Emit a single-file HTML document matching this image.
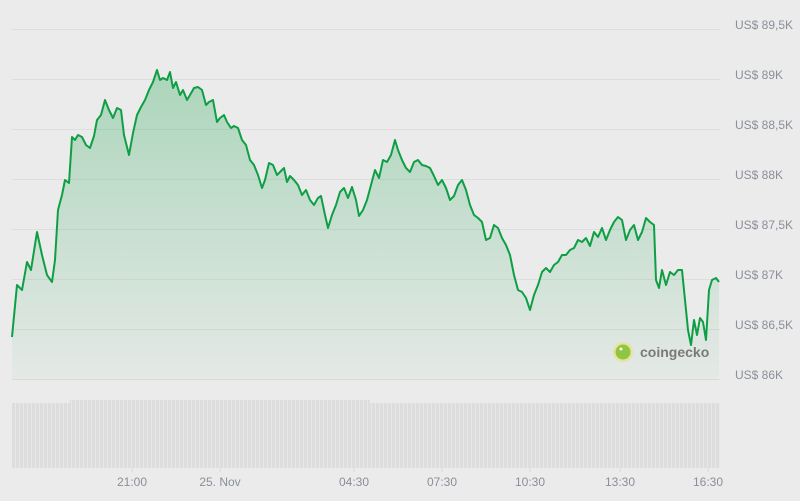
<!DOCTYPE html>
<html><head><meta charset="utf-8"><style>
body{margin:0;background:#ebebeb;width:800px;height:496px;overflow:hidden;font-family:"Liberation Sans",sans-serif}
</style></head><body>
<svg width="800" height="496" xmlns="http://www.w3.org/2000/svg">
<defs>
<linearGradient id="g" x1="0" y1="0" x2="0" y2="1">
<stop offset="0" stop-color="#16a34a" stop-opacity="0.3"/>
<stop offset="1" stop-color="#16a34a" stop-opacity="0.03"/>
</linearGradient>
<pattern id="vb" width="4" height="10" patternUnits="userSpaceOnUse">
<rect width="3" height="10" fill="#dddddd"/><rect x="3" width="1" height="10" fill="#e8e8e8"/>
</pattern>
</defs>
<rect width="800" height="496" fill="#ebebeb"/>
<g stroke="#dedede" stroke-width="1">
<line x1="12" x2="720" y1="29.5" y2="29.5"/><line x1="12" x2="720" y1="79.5" y2="79.5"/>
<line x1="12" x2="720" y1="129.5" y2="129.5"/><line x1="12" x2="720" y1="179.5" y2="179.5"/>
<line x1="12" x2="720" y1="229.5" y2="229.5"/><line x1="12" x2="720" y1="279.5" y2="279.5"/>
<line x1="12" x2="720" y1="329.5" y2="329.5"/><line x1="12" x2="720" y1="379.5" y2="379.5"/>
</g>
<g fill="#8a8f99" font-size="12">
<text x="735" y="29">US$ 89,5K</text><text x="735" y="79">US$ 89K</text>
<text x="735" y="129">US$ 88,5K</text><text x="735" y="179">US$ 88K</text>
<text x="735" y="229">US$ 87,5K</text><text x="735" y="279">US$ 87K</text>
<text x="735" y="329">US$ 86,5K</text><text x="735" y="379">US$ 86K</text>
</g>
<rect x="12" y="403" width="708" height="65" fill="url(#vb)"/>
<rect x="70" y="400" width="300" height="3" fill="url(#vb)"/>
<g stroke="#d8d8d8"><line x1="132" x2="132" y1="468" y2="472"/><line x1="220" x2="220" y1="468" y2="472"/><line x1="354" x2="354" y1="468" y2="472"/><line x1="442" x2="442" y1="468" y2="472"/><line x1="530" x2="530" y1="468" y2="472"/><line x1="620" x2="620" y1="468" y2="472"/><line x1="708" x2="708" y1="468" y2="472"/></g>
<g fill="#8a8f99" font-size="12" text-anchor="middle">
<text x="132" y="486">21:00</text><text x="220" y="486">25. Nov</text>
<text x="354" y="486">04:30</text><text x="442" y="486">07:30</text>
<text x="530" y="486">10:30</text><text x="620" y="486">13:30</text>
<text x="708" y="486">16:30</text>
</g>
<path d="M12,337 L17,285 22,290 27,262 31,270 37,232 42,255 47,275 52,282 55,260 58,210 62,195 65,180 69,183 72,137 75,140 78,135 82,137 86,145 90,148 94,136 97,120 101,115 105,100 109,110 113,118 117,108 121,110 124,135 129,155 133,133 137,115 141,107 145,100 149,90 153,82 157,70 160,80 163,78 167,80 170,72 173,88 176,82 180,95 183,90 187,100 190,95 194,88 198,87 202,90 206,105 209,102 213,100 217,122 220,118 224,115 227,122 231,128 234,126 238,128 242,140 246,145 250,160 254,165 258,175 262,188 265,180 269,163 273,165 277,175 280,172 284,168 287,182 290,176 294,180 298,185 302,195 306,190 310,200 314,205 318,198 321,196 325,215 328,228 332,215 336,205 340,192 344,188 348,198 352,187 356,200 359,216 363,210 367,200 371,185 375,170 379,178 383,160 387,162 391,155 395,140 398,150 402,160 406,168 410,172 414,162 418,160 422,165 426,166 430,168 434,176 438,185 442,180 446,188 450,200 454,196 458,185 462,180 466,190 470,205 474,215 478,218 482,222 486,240 490,238 494,225 498,228 502,238 506,245 510,255 514,275 518,290 522,292 526,298 530,310 534,295 538,285 542,272 546,268 550,272 554,265 558,262 562,255 566,255 570,250 574,248 578,240 582,242 586,238 590,246 594,232 598,237 602,228 606,240 610,230 614,222 618,217 622,220 626,240 630,230 634,225 638,240 642,232 646,218 650,222 654,225 656,280 659,288 662,270 666,285 670,272 674,275 678,270 682,270 685,300 688,330 691,345 694,320 697,335 700,318 703,322 706,340 709,290 712,280 716,278 719,282 L719,380 L12,380 Z" fill="url(#g)"/>
<path d="M12,337 L17,285 22,290 27,262 31,270 37,232 42,255 47,275 52,282 55,260 58,210 62,195 65,180 69,183 72,137 75,140 78,135 82,137 86,145 90,148 94,136 97,120 101,115 105,100 109,110 113,118 117,108 121,110 124,135 129,155 133,133 137,115 141,107 145,100 149,90 153,82 157,70 160,80 163,78 167,80 170,72 173,88 176,82 180,95 183,90 187,100 190,95 194,88 198,87 202,90 206,105 209,102 213,100 217,122 220,118 224,115 227,122 231,128 234,126 238,128 242,140 246,145 250,160 254,165 258,175 262,188 265,180 269,163 273,165 277,175 280,172 284,168 287,182 290,176 294,180 298,185 302,195 306,190 310,200 314,205 318,198 321,196 325,215 328,228 332,215 336,205 340,192 344,188 348,198 352,187 356,200 359,216 363,210 367,200 371,185 375,170 379,178 383,160 387,162 391,155 395,140 398,150 402,160 406,168 410,172 414,162 418,160 422,165 426,166 430,168 434,176 438,185 442,180 446,188 450,200 454,196 458,185 462,180 466,190 470,205 474,215 478,218 482,222 486,240 490,238 494,225 498,228 502,238 506,245 510,255 514,275 518,290 522,292 526,298 530,310 534,295 538,285 542,272 546,268 550,272 554,265 558,262 562,255 566,255 570,250 574,248 578,240 582,242 586,238 590,246 594,232 598,237 602,228 606,240 610,230 614,222 618,217 622,220 626,240 630,230 634,225 638,240 642,232 646,218 650,222 654,225 656,280 659,288 662,270 666,285 670,272 674,275 678,270 682,270 685,300 688,330 691,345 694,320 697,335 700,318 703,322 706,340 709,290 712,280 716,278 719,282" fill="none" stroke="#0e9f45" stroke-width="2" stroke-linejoin="round"/>
<circle cx="623" cy="352" r="10" fill="#e8e2a0"/>
<circle cx="623" cy="352" r="7.5" fill="#8dc63f"/>
<circle cx="621" cy="349" r="1.5" fill="#fff"/>
<text x="640" y="357" font-size="14" font-weight="bold" fill="#7a7a7a">coingecko</text>
</svg>
</body></html>
